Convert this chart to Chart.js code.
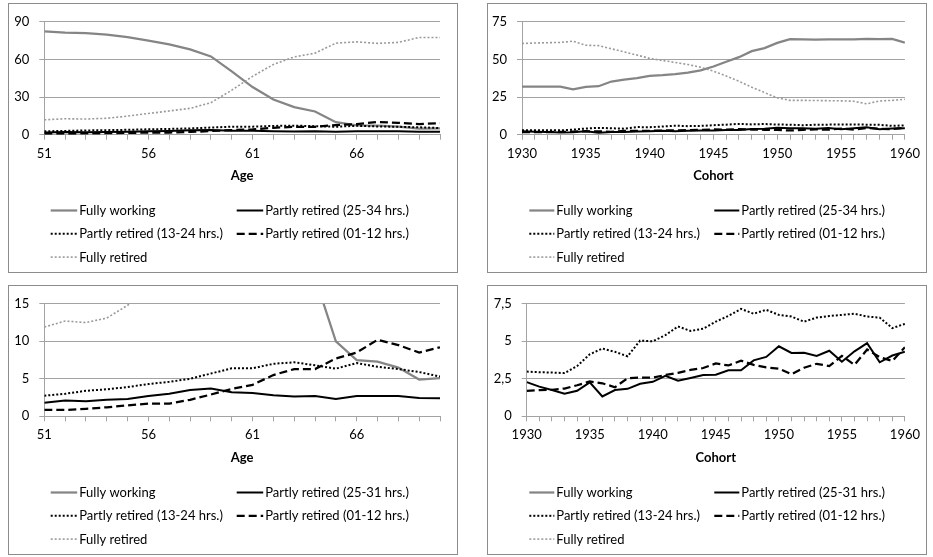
<!DOCTYPE html>
<html>
<head>
<meta charset="utf-8">
<script src="https://cdn.jsdelivr.net/npm/chart.js@4.4.1/dist/chart.umd.min.js"></script>
<style>
  html, body { margin: 0; padding: 0; background: #fff; }
  body { width: 933px; height: 557px; position: relative; overflow: hidden; }
  .panel { position: absolute; border: 1px solid #8c8c8c; box-sizing: border-box; background: #fff; }
  .panel canvas { position: absolute; left: 0; top: 0; }
</style>
</head>
<body>
<div class="panel" style="left:8px;top:3px;width:450px;height:270px"><canvas id="ageAll" width="448" height="268" style="width:448px;height:268px"></canvas></div>
<div class="panel" style="left:487px;top:3px;width:440px;height:270px"><canvas id="cohortAll" width="438" height="268" style="width:438px;height:268px"></canvas></div>
<div class="panel" style="left:8px;top:285px;width:450px;height:270px"><canvas id="ageZoom" width="448" height="268" style="width:448px;height:268px"></canvas></div>
<div class="panel" style="left:487px;top:285px;width:440px;height:270px"><canvas id="cohortZoom" width="438" height="268" style="width:438px;height:268px"></canvas></div>

<script>
// ---- categories ----
const ages = ['51','52','53','54','55','56','57','58','59','60','61','62','63','64','65','66','67','68','69','70'];
const cohorts = ['1930','1931','1932','1933','1934','1935','1936','1937','1938','1939','1940','1941','1942','1943','1944','1945',
                 '1946','1947','1948','1949','1950','1951','1952','1953','1954','1955','1956','1957','1958','1959','1960'];

// ---- shares by age (%) ----
const ageFullyWorking = [82.3, 81.3, 81.0, 79.8, 77.7, 75.0, 72.0, 68.0, 62.4, 50.5, 38.0, 28.0, 22.0, 18.5, 10.0, 7.5, 7.3, 6.5, 4.9, 5.1];
const agePartly2534   = [1.8, 2.1, 2.0, 2.2, 2.3, 2.7, 3.0, 3.5, 3.7, 3.2, 3.1, 2.8, 2.65, 2.7, 2.3, 2.7, 2.7, 2.7, 2.45, 2.4];
const agePartly1324   = [2.75, 3.0, 3.4, 3.6, 3.9, 4.3, 4.6, 5.0, 5.7, 6.4, 6.4, 7.0, 7.2, 6.8, 6.35, 7.1, 6.6, 6.3, 5.9, 5.3];
const agePartly0112   = [0.85, 0.85, 1.0, 1.2, 1.45, 1.7, 1.7, 2.2, 2.9, 3.65, 4.2, 5.5, 6.3, 6.3, 7.7, 8.5, 10.2, 9.5, 8.5, 9.2];
const ageFullyRetired = [11.9, 12.7, 12.5, 13.1, 14.8, 16.9, 18.9, 21.0, 25.5, 35.5, 46.5, 56.0, 62.0, 65.0, 73.0, 74.0, 72.8, 73.6, 77.5, 77.5];

// ---- shares by birth cohort (%) ----
const cohFullyWorking = [32.0, 32.0, 32.0, 32.0, 30.2, 31.8, 32.2, 35.3, 36.6, 37.6, 39.1, 39.5, 40.3, 41.3, 42.7, 45.3,
                         48.5, 51.5, 55.5, 57.5, 61.0, 63.5, 63.4, 63.2, 63.3, 63.3, 63.4, 63.6, 63.5, 63.7, 61.2];
const cohPartly2534   = [2.28, 1.98, 1.75, 1.51, 1.70, 2.26, 1.32, 1.75, 1.83, 2.17, 2.30, 2.70, 2.37, 2.56, 2.75, 2.77,
                         3.07, 3.07, 3.73, 3.96, 4.67, 4.22, 4.24, 4.03, 4.37, 3.64, 4.33, 4.88, 3.60, 4.05, 4.30];
const cohPartly1324   = [2.98, 2.94, 2.92, 2.88, 3.35, 4.13, 4.52, 4.30, 4.00, 5.05, 5.00, 5.41, 5.99, 5.69, 5.84, 6.31,
                         6.69, 7.16, 6.84, 7.10, 6.76, 6.65, 6.31, 6.58, 6.69, 6.76, 6.84, 6.65, 6.58, 5.88, 6.16];
const cohPartly0112   = [1.70, 1.75, 1.77, 1.85, 2.07, 2.32, 2.20, 1.94, 2.54, 2.58, 2.58, 2.75, 2.90, 3.09, 3.22, 3.52,
                         3.39, 3.71, 3.43, 3.26, 3.18, 2.81, 3.24, 3.50, 3.35, 4.03, 3.43, 4.45, 3.94, 3.69, 4.60];
const cohFullyRetired = [60.6, 60.9, 61.1, 61.3, 62.1, 59.4, 59.2, 57.1, 55.0, 52.9, 50.7, 49.3, 48.0, 46.6, 44.8, 42.2,
                         39.0, 35.5, 31.5, 28.0, 24.5, 22.8, 22.8, 22.7, 22.6, 22.5, 22.2, 20.5, 22.4, 22.8, 23.5];

// ---- series names and tick labels ----
const namesTop    = ['Fully working', 'Partly retired (25-34 hrs.)', 'Partly retired (13-24 hrs.)', 'Partly retired (01-12 hrs.)', 'Fully retired'];
const namesBottom = ['Fully working', 'Partly retired (25-31 hrs.)', 'Partly retired (13-24 hrs.)', 'Partly retired (01-12 hrs.)', 'Fully retired'];
const yTicksAgeAll     = ['0', '30', '60', '90'];
const yTicksCohortAll  = ['0', '25', '50', '75'];
const yTicksAgeZoom    = ['0', '5', '10', '15'];
const yTicksCohortZoom = ['0', '2,5', '5', '7,5'];

const FONT = 'Lato, "Open Sans", sans-serif';
const GRID = '#a3a3a3';

// line looks, one per series in legend order
const looks = [
  { borderColor: '#858585', borderWidth: 2.25, borderDash: [] },
  { borderColor: '#000000', borderWidth: 2.0,  borderDash: [] },
  { borderColor: '#000000', borderWidth: 2.0,  borderDash: [2, 2] },
  { borderColor: '#000000', borderWidth: 2.25, borderDash: [8, 4] },
  { borderColor: '#9a9a9a', borderWidth: 1.6,  borderDash: [2, 2] }
];

// two-column legend grid drawn under the axis title
const gridLegend = {
  id: 'gridLegend',
  afterDraw(chart, args, opts) {
    const ctx = chart.ctx;
    ctx.save();
    ctx.font = '13px ' + FONT;
    ctx.textBaseline = 'middle';
    ctx.textAlign = 'left';
    chart.data.datasets.forEach((ds, i) => {
      const x = opts.cols[i % 2];
      const y = opts.rows[Math.floor(i / 2)];
      ctx.save();
      ctx.strokeStyle = ds.borderColor;
      ctx.lineWidth = ds.borderWidth;
      ctx.setLineDash(ds.borderDash || []);
      ctx.beginPath();
      ctx.moveTo(x, y + 0.5);
      ctx.lineTo(x + opts.sample, y + 0.5);
      ctx.stroke();
      ctx.restore();
      ctx.fillStyle = '#000';
      ctx.fillText(ds.label, x + opts.sample + 2, y + 1);
    });
    ctx.restore();
  }
};

function makePanel(id, p) {
  const canvas = document.getElementById(id);
  const W = canvas.width, H = canvas.height;
  const datasets = p.series.map((vals, i) => Object.assign({
    label: p.names[i],
    data: vals,
    pointRadius: 0,
    pointHoverRadius: 0,
    tension: 0,
    fill: false,
    clip: 0,
    order: p.series.length - i
  }, looks[i]));

  return new Chart(canvas, {
    type: 'line',
    data: { labels: p.labels, datasets },
    plugins: [gridLegend],
    options: {
      responsive: false,
      animation: false,
      events: [],
      layout: { padding: { left: 0, top: p.plot.top, right: W - p.plot.right, bottom: 0 } },
      plugins: {
        legend: { display: false },
        tooltip: { enabled: false },
        gridLegend: { cols: p.legendCols, rows: [206, 229.3, 252.6], sample: p.sample }
      },
      scales: {
        x: {
          type: 'category',
          offset: false,
          afterFit(scale) { scale.height = H - p.plot.bottom; },
          grid: { display: true, drawOnChartArea: false, drawTicks: true, tickLength: 5, color: GRID, lineWidth: 1 },
          border: { display: true, color: GRID, width: 1 },
          ticks: {
            autoSkip: false, maxRotation: 0, minRotation: 0, padding: 6,
            color: '#000', font: { family: FONT, size: 13 },
            callback(value, index) { return index % 5 === 0 ? this.getLabelForValue(value) : ''; }
          },
          title: {
            display: true, text: p.xTitle, color: '#000',
            font: { family: FONT, size: 13, weight: 'bold' },
            padding: { top: 0, bottom: 88.8 }
          }
        },
        y: {
          min: 0, max: p.yMax,
          afterFit(scale) { scale.width = p.plot.left; },
          afterBuildTicks(scale) {
            scale.ticks = p.yTicks.map((t, i) => ({ value: i * p.yStep }));
          },
          grid: { color: GRID, lineWidth: 1, drawTicks: true, tickLength: 5 },
          border: { display: true, color: GRID, width: 1 },
          ticks: {
            padding: 10, color: '#000', font: { family: FONT, size: 13 },
            callback(value, index) { return p.yTicks[index]; }
          }
        }
      }
    }
  });
}

makePanel('ageAll', {
  labels: ages, names: namesTop, xTitle: 'Age',
  series: [ageFullyWorking, agePartly2534, agePartly1324, agePartly0112, ageFullyRetired],
  yMax: 90, yStep: 30, yTicks: yTicksAgeAll,
  plot: { left: 35.3, right: 431, top: 13.3, bottom: 130.7 },
  legendCols: [41.7, 227.7], sample: 26.5
});

makePanel('cohortAll', {
  labels: cohorts, names: namesTop, xTitle: 'Cohort',
  series: [cohFullyWorking, cohPartly2534, cohPartly1324, cohPartly0112, cohFullyRetired],
  yMax: 75, yStep: 25, yTicks: yTicksCohortAll,
  plot: { left: 34, right: 423, top: 13.3, bottom: 130.7 },
  legendCols: [41.3, 226.3], sample: 25
});

makePanel('ageZoom', {
  labels: ages, names: namesBottom, xTitle: 'Age',
  series: [ageFullyWorking, agePartly2534, agePartly1324, agePartly0112, ageFullyRetired],
  yMax: 15, yStep: 5, yTicks: yTicksAgeZoom,
  plot: { left: 35.3, right: 431, top: 13, bottom: 130.3 },
  legendCols: [41.7, 227.7], sample: 26.5
});

makePanel('cohortZoom', {
  labels: cohorts, names: namesBottom, xTitle: 'Cohort',
  series: [cohFullyWorking, cohPartly2534, cohPartly1324, cohPartly0112, cohFullyRetired],
  yMax: 7.5, yStep: 2.5, yTicks: yTicksCohortZoom,
  plot: { left: 38.7, right: 423, top: 13, bottom: 130.3 },
  legendCols: [41.3, 226.3], sample: 25
});
</script>
</body>
</html>
